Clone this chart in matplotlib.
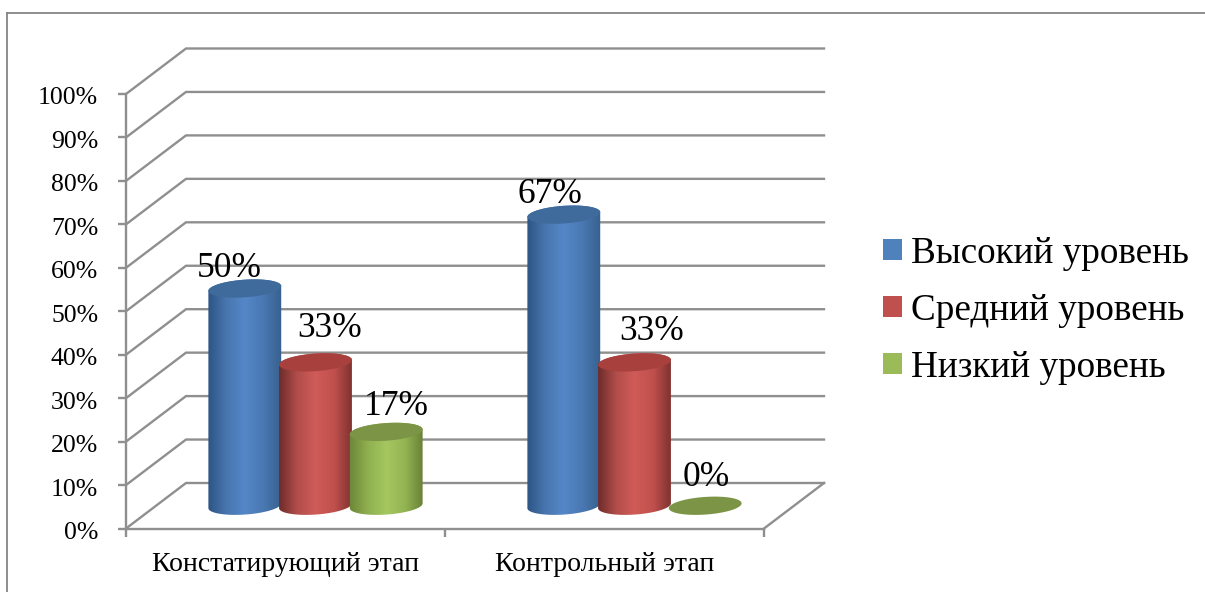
import numpy as np
import matplotlib
matplotlib.use("Agg")
import matplotlib.pyplot as plt
from matplotlib.colors import LinearSegmentedColormap
from matplotlib.lines import Line2D
from matplotlib.patches import Patch, Polygon
from matplotlib.transforms import ScaledTranslation

plt.rcParams['font.family'] = ['Liberation Serif', 'DejaVu Serif']

categories = ["Констатирующий этап", "Контрольный этап"]
series_names = ["Высокий уровень", "Средний уровень", "Низкий уровень"]
vysokiy = [50, 67]
sredniy = [33, 33]
nizkiy = [17, 0]
y_ticks = list(range(0, 101, 10))
y_tick_labels = [f"{v}%" for v in y_ticks]

series_values = [vysokiy, sredniy, nizkiy]
legend_colors = ["#4f81bd", "#c0504d", "#9bbb59"]
top_colors = ["#3e6a9c", "#a8413e", "#7b9445"]
body_stops = [
    ["#2b5282", "#4775ad", "#5587c8", "#4a78b2", "#37608e"],
    ["#692a28", "#b04d4a", "#d05b58", "#c0504d", "#7c302e"],
    ["#6a8537", "#8fb04f", "#a5c760", "#93b452", "#667f35"],
]
label_offsets = [
    [(-15, 20), (-14, 20)],
    [(14, 34), (17, 31)],
    [(10, 25), (1, 28)],
]

W, H = 1205, 592
L, R, T, B = 126, 764, 94, 528.5
fig = plt.figure(figsize=(W / 100, H / 100), dpi=100)
ax = fig.add_axes([L / W, 1 - B / H, (R - L) / W, (B - T) / H])
ax.set_xlim(0, 2)
ax.set_ylim(0, 100)
ax.set_autoscale_on(False)
ax.patch.set_alpha(0)

PXX = 2 / (R - L)            # category units per pixel
PXY = 100 / (B - T)          # percent per pixel
DX, DY = 60 * PXX, 45.5 * PXY  # depth of the 3-D box

GRID = "#8f8f8f"
LW = 1.7


def project(x, depth, v):
    return x + depth * DX, v + depth * DY


# gridlines: side wall + back wall
for v in y_ticks:
    x0, y0 = project(0, 0, v)
    x1, y1 = project(0, 1, v)
    x2, y2 = project(2, 1, v)
    ax.plot([x0, x1, x2], [y0, y1, y2], color=GRID, lw=LW, clip_on=False, zorder=1,
            solid_joinstyle='miter')
xa, ya = project(2, 0, 0)
xb, yb = project(2, 1, 0)
ax.plot([xa, xb], [ya, yb], color=GRID, lw=LW, clip_on=False, zorder=1)

# axes
for s in ("top", "right"):
    ax.spines[s].set_visible(False)
for s in ("left", "bottom"):
    ax.spines[s].set_color(GRID)
    ax.spines[s].set_linewidth(LW)
ax.set_yticks(y_ticks, y_tick_labels)
ax.set_xticks([0, 1, 2], ["", "", ""])
ax.set_xticks([0.5, 1.5], categories, minor=True)
ax.tick_params(axis='y', length=5.5, width=LW, color=GRID, labelsize=18.5, pad=14.5)
ax.tick_params(axis='x', which='major', length=5.5, width=LW, color=GRID)
ax.tick_params(axis='x', which='minor', length=0, labelsize=20, pad=17)
shift = ScaledTranslation(0, -2 / 100, fig.dpi_scale_trans)
for lab in ax.get_yticklabels():
    lab.set_transform(lab.get_transform() + shift)


# cylinders
A, Bm, TILT = 36.5, 8.8, np.deg2rad(4)
WIDTH = 70.7 * PXX
DEPTH = 0.5


def ellipse(cx, cy, t):
    ex = A * np.cos(t) * np.cos(TILT) - Bm * np.sin(t) * np.sin(TILT)
    ey = A * np.cos(t) * np.sin(TILT) + Bm * np.sin(t) * np.cos(TILT)
    return cx + ex * PXX, cy + ey * PXY


n_s = len(series_values)
for c in range(len(categories)):
    for s in range(n_s):
        v = series_values[s][c]
        z = 3 + s + c * n_s
        cx, cb = project(c + 0.5 + (s - 1) * WIDTH, DEPTH, 0)
        ct = cb + v
        if v > 0:
            lower = np.linspace(np.pi, 2 * np.pi, 60)
            upper = np.linspace(0, np.pi, 60)
            bx, by = ellipse(cx, cb, lower)
            tx, ty = ellipse(cx, ct, upper)
            poly = Polygon(np.column_stack([np.r_[bx, tx], np.r_[by, ty]]), closed=True,
                           facecolor='none', edgecolor='none', transform=ax.transData)
            ax.add_patch(poly)
            cmap = LinearSegmentedColormap.from_list("c", body_stops[s])
            grad = np.linspace(0, 1, 256)[None, :]
            hw = (A + 1) * PXX
            im = ax.imshow(grad, cmap=cmap, aspect='auto', interpolation='bilinear',
                           extent=[cx - hw, cx + hw, cb - 4 * Bm * PXY, ct + 4 * Bm * PXY],
                           zorder=z)
            im.set_clip_path(poly)
        tt = np.linspace(0, 2 * np.pi, 120)
        ex, ey = ellipse(cx, ct, tt)
        ax.fill(ex, ey, color=top_colors[s], lw=0, zorder=z + 0.1, clip_on=False)
        ox, oy = label_offsets[s][c]
        ax.annotate(f"{v}%", xy=(cx, ct), xytext=(ox * 0.72, oy * 0.72),
                    textcoords='offset points', ha='center', va='center',
                    fontsize=25.5, color='black', zorder=30, annotation_clip=False)

# legend
handles = [Patch(facecolor=col, edgecolor='none', label=name)
           for col, name in zip(legend_colors, series_names)]
fig.legend(handles=handles, loc='center left', bbox_to_anchor=(883 / W, 1 - 310.5 / H),
           frameon=False, fontsize=26.7, handlelength=0.51, handleheight=0.51,
           handletextpad=0.24, labelspacing=0.61, borderpad=0, borderaxespad=0)

# outer chart frame
for xs, ys in (([7, 7], [592, 13]), ([7, 1205], [13, 13])):
    fig.add_artist(Line2D(np.array(xs) / W, 1 - np.array(ys) / H, color="#868686", lw=1.3))

fig.savefig("out.png", dpi=100)
